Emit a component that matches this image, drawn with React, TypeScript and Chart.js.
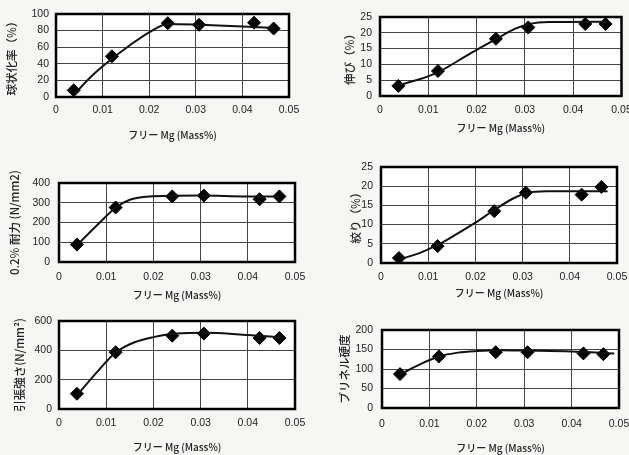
import React, { useEffect, useRef } from "react";
import { Chart, registerables } from "chart.js";

Chart.register(...registerables);

// ---- data ----
const freeMg = [0.0038, 0.012, 0.024, 0.0307, 0.0425, 0.0467];
const xTitle = "フリー Mg (Mass%)";

const nodularity = [8, 49, 89, 87, 89.5, 82.5];
const nodularityCurveX = [0.004, 0.008, 0.012, 0.016, 0.02, 0.024, 0.031, 0.04, 0.047];
const nodularityCurveY = [4, 27, 46, 63, 78, 88, 87, 85, 83];

const elongation = [3.2, 7.9, 18.1, 21.7, 22.8, 22.8];
const elongationCurveX = [0.004, 0.008, 0.012, 0.016, 0.02, 0.024, 0.028, 0.031, 0.035, 0.047];
const elongationCurveY = [3.5, 5.2, 7.5, 11, 14.6, 18, 21.3, 22.8, 23.4, 23.5];

const proofStress = [88, 276, 332, 336, 318, 332];
const proofCurveX = [0.004, 0.008, 0.012, 0.015, 0.02, 0.03, 0.04, 0.047];
const proofCurveY = [90, 185, 275, 315, 333, 337, 332, 332];

const reduction = [1.3, 4.4, 13.5, 18.3, 17.8, 19.8];
const reductionCurveX = [0.004, 0.008, 0.012, 0.016, 0.02, 0.024, 0.028, 0.031, 0.035, 0.048];
const reductionCurveY = [1, 2.5, 4.7, 7.5, 10.5, 13.8, 16.8, 18.3, 18.7, 18.7];

const tensile = [104, 387, 500, 514, 484, 484];
const tensileCurveX = [0.004, 0.008, 0.012, 0.016, 0.02, 0.025, 0.031, 0.04, 0.047];
const tensileCurveY = [100, 250, 385, 455, 490, 515, 520, 505, 490];

const brinell = [87, 132, 143, 143, 140, 138];
const brinellCurveX = [0.004, 0.008, 0.012, 0.016, 0.02, 0.025, 0.031, 0.04, 0.049];
const brinellCurveY = [87, 112, 132, 142, 146, 148, 147, 145, 140];

const yTitles = ["球状化率（%）", "伸び（%）", "0.2% 耐力 (N/mm2)", "絞り（%）", "引張強さ(N/mm²)", "ブリネル硬度"];
const yMaxes = [100, 25, 400, 25, 600, 200];
const ySteps = [20, 5, 100, 5, 200, 50];

// ---- layout / style ----
type Panel = {
  values: number[]; cx: number[]; cy: number[];
  box: [number, number, number, number]; // canvas left, top, width, height
  plot: [number, number, number, number]; // plot L, T, R, B (page coords)
  yTitlePad: number; xTitlePad: number; yTickPad: number; xTickPad: number;
};

const panels: Panel[] = [
  { values: nodularity, cx: nodularityCurveX, cy: nodularityCurveY, box: [0, 0, 305, 150], plot: [56, 14, 289, 97], yTitlePad: 5, xTitlePad: 9, yTickPad: 7, xTickPad: 7 },
  { values: elongation, cx: elongationCurveX, cy: elongationCurveY, box: [318, 0, 311, 150], plot: [380, 17, 622, 96], yTitlePad: 25, xTitlePad: 16, yTickPad: 8, xTickPad: 8 },
  { values: proofStress, cx: proofCurveX, cy: proofCurveY, box: [0, 160, 310, 145], plot: [59, 183, 295, 262], yTitlePad: 8, xTitlePad: 4, yTickPad: 9, xTickPad: 9 },
  { values: reduction, cx: reductionCurveX, cy: reductionCurveY, box: [318, 155, 311, 150], plot: [381, 167, 617, 263], yTitlePad: 31, xTitlePad: 6, yTickPad: 8, xTickPad: 8 },
  { values: tensile, cx: tensileCurveX, cy: tensileCurveY, box: [0, 305, 310, 150], plot: [59, 321, 295, 409], yTitlePad: 13, xTitlePad: 2, yTickPad: 7, xTickPad: 8 },
  { values: brinell, cx: brinellCurveX, cy: brinellCurveY, box: [318, 305, 311, 150], plot: [382, 330, 619, 408], yTitlePad: 20, xTitlePad: 1, yTickPad: 9, xTickPad: 10 },
];

const frameAndBg = {
  id: "frameAndBg",
  beforeDraw(chart: any) {
    const { ctx, chartArea: a } = chart;
    ctx.save();
    ctx.fillStyle = "#ffffff";
    ctx.fillRect(a.left, a.top, a.right - a.left, a.bottom - a.top);
    ctx.restore();
  },
  beforeDatasetsDraw(chart: any) {
    const { ctx, chartArea: a } = chart;
    ctx.save();
    ctx.strokeStyle = "#000";
    ctx.lineWidth = 2.5;
    ctx.strokeRect(a.left, a.top, a.right - a.left, a.bottom - a.top);
    ctx.restore();
  },
};

const tickFont = { family: "'Liberation Sans', Arial, sans-serif", size: 10.5 };
const xTitleFont = { family: "'Noto Sans CJK JP', sans-serif", size: 10, weight: "500", lineHeight: 1.2 };
const yTitleFont = { family: "'Noto Sans CJK JP', sans-serif", size: 11.5, weight: "500", lineHeight: 1.2 };

function PanelChart({ p, i }: { p: Panel; i: number }) {
  const ref = useRef<HTMLCanvasElement>(null);
  useEffect(() => {
    const [cl, ct, cw, ch] = p.box;
    const [L, T, R, B] = p.plot;
    const chart = new Chart(ref.current!, {
      type: "line",
      data: {
        datasets: [
          {
            data: p.cx.map((x, k) => ({ x, y: p.cy[k] })),
            borderColor: "#111",
            borderWidth: 2,
            pointRadius: 0,
            cubicInterpolationMode: "monotone",
            fill: false,
          },
          {
            data: freeMg.map((x, k) => ({ x, y: p.values[k] })),
            showLine: false,
            pointStyle: "rectRot",
            pointRadius: 6.5,
            backgroundColor: "#000",
            borderColor: "#000",
          },
        ],
      },
      options: {
        animation: false,
        responsive: false,
        maintainAspectRatio: false,
        layout: { padding: { left: 0, top: T - ct, right: cl + cw - R, bottom: 0 } },
        plugins: { legend: { display: false }, tooltip: { enabled: false } },
        scales: {
          x: {
            type: "linear",
            min: 0,
            max: 0.05,
            ticks: {
              stepSize: 0.01,
              padding: p.xTickPad,
              color: "#222",
              font: tickFont,
              maxRotation: 0,
              callback: (v: any) => String(+Number(v).toFixed(3)),
            },
            grid: { color: "#444", lineWidth: 1, drawTicks: false },
            border: { display: false },
            title: { display: true, text: xTitle, color: "#222", font: xTitleFont, padding: { top: 0, bottom: p.xTitlePad } },
            afterFit: (s: any) => {
              s.height = ct + ch - B;
              s.paddingLeft = 0;
              s.paddingRight = 0;
            },
          },
          y: {
            type: "linear",
            min: 0,
            max: yMaxes[i],
            ticks: { stepSize: ySteps[i], padding: p.yTickPad, color: "#222", font: tickFont },
            grid: { color: "#444", lineWidth: 1, drawTicks: false },
            border: { display: false },
            title: { display: true, text: yTitles[i], color: "#222", font: yTitleFont, padding: { top: p.yTitlePad, bottom: 0 } },
            afterFit: (s: any) => {
              s.width = L - cl;
              s.paddingTop = 0;
              s.paddingBottom = 0;
            },
          },
        },
      },
      plugins: [frameAndBg],
    } as any);
    return () => chart.destroy();
  }, []);
  const [cl, ct, cw, ch] = p.box;
  return (
    <canvas
      ref={ref}
      width={cw}
      height={ch}
      style={{ position: "absolute", left: cl, top: ct, width: cw, height: ch }}
    />
  );
}

export default function App() {
  return (
    <div
      style={{
        position: "fixed",
        left: 0,
        top: 0,
        width: 629,
        height: 455,
        overflow: "hidden",
        background: "#f6f6f4",
      }}
    >
      {panels.map((p, i) => (
        <PanelChart key={i} p={p} i={i} />
      ))}
    </div>
  );
}
